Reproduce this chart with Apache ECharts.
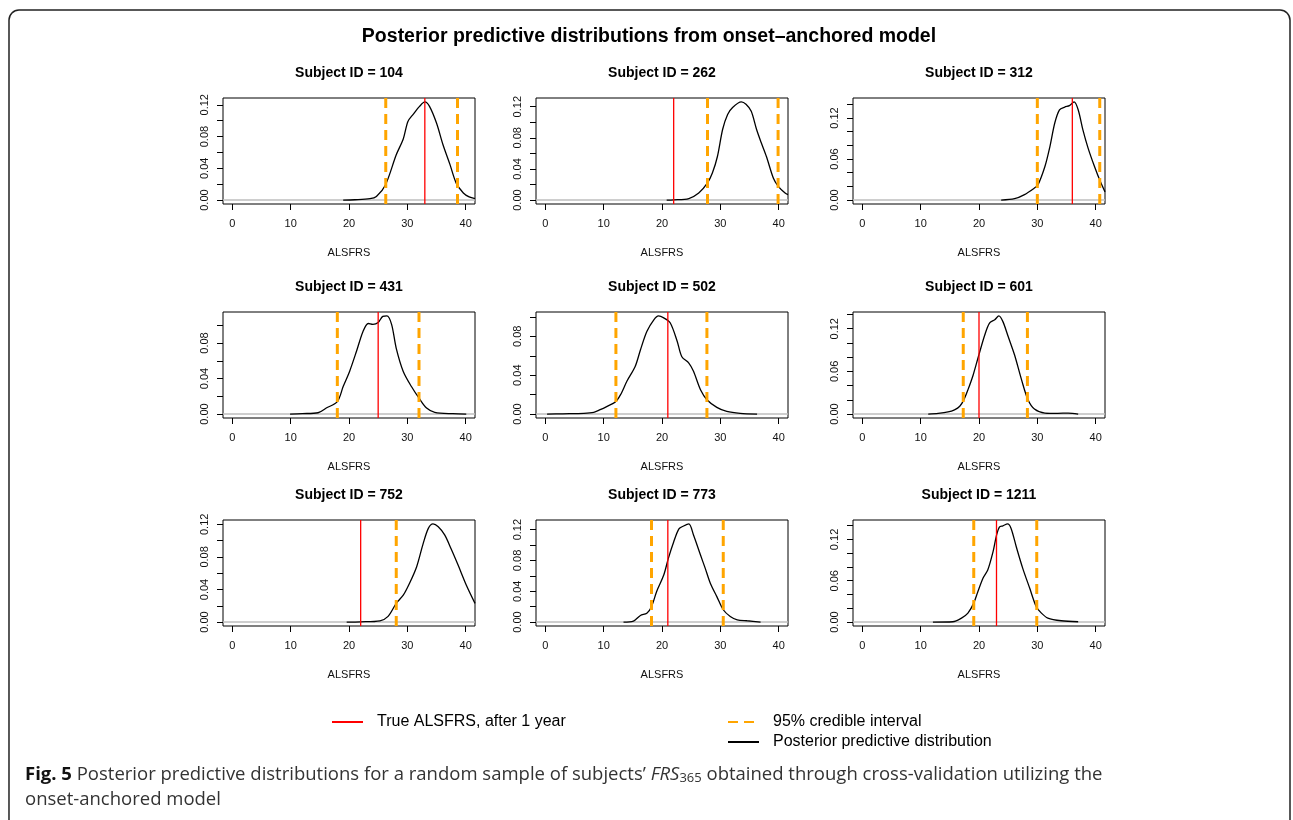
<!DOCTYPE html>
<html>
<head>
<meta charset="utf-8">
<title>Posterior predictive distributions</title>
<script src="https://cdn.jsdelivr.net/npm/echarts@6/dist/echarts.min.js"></script>
<style>
  html, body { margin: 0; padding: 0; background: #fff; }
  #chart { width: 1293px; height: 820px; }
</style>
</head>
<body>
<div id="chart"></div>
<script>
// subjects shown, one panel each (row by row)
const subjectIds = ["104", "262", "312", "431", "502", "601", "752", "773", "1211"];

// true ALSFRS after 1 year (red line)
const trueValues = [33, 22, 36, 25, 21, 20, 22, 21, 23];

// 95% credible interval bounds (orange dashed)
const ciLower = [26.3, 27.8, 30.0, 18.0, 12.1, 17.3, 28.1, 18.2, 19.1];
const ciUpper = [38.6, 39.9, 40.7, 32.0, 27.7, 28.3, 43.0, 30.5, 29.9];

// posterior predictive densities, [ALSFRS, density]
const dens104 = [[19.0, 0], [21, 0.0004], [23.6, 0.0017], [24.7, 0.0046], [26.25, 0.019], [28.1, 0.057], [29.3, 0.077], [30.1, 0.099], [31, 0.108], [32.1, 0.118], [33, 0.1236], [33.8, 0.118], [35, 0.097], [36.1, 0.070], [37.3, 0.045], [38.4, 0.021], [39.6, 0.009], [40.6, 0.004], [41.6, 0.0018]];
const dens262 = [[20.8, 0], [22, 0.0003], [24.6, 0.002], [26.3, 0.009], [27.8, 0.022], [28.65, 0.035], [29.5, 0.056], [30.4, 0.091], [31.25, 0.110], [32.1, 0.119], [33.6, 0.1261], [34.4, 0.123], [35.3, 0.114], [36.2, 0.091], [37, 0.074], [37.9, 0.056], [39.1, 0.028], [39.9, 0.018], [41.1, 0.009], [41.6, 0.007]];
const dens312 = [[23.8, 0], [26.1, 0.002], [27.8, 0.008], [29.5, 0.0176], [30.1, 0.022], [31.3, 0.049], [32.1, 0.076], [33, 0.113], [33.8, 0.132], [34.7, 0.136], [35.5, 0.138], [36.3, 0.1435], [37, 0.132], [37.8, 0.103], [38.7, 0.076], [39.8, 0.049], [40.8, 0.027], [41.6, 0.012]];
const dens431 = [[9.9, 0], [12, 0.0005], [14.7, 0.0015], [16.1, 0.0068], [18, 0.014], [19, 0.031], [20.1, 0.048], [21.3, 0.071], [22.4, 0.093], [23.3, 0.102], [24.1, 0.101], [25, 0.103], [25.8, 0.110], [26.5, 0.1105], [27.3, 0.101], [28.1, 0.074], [29.3, 0.048], [30.7, 0.031], [32.1, 0.017], [33.3, 0.0068], [34.7, 0.002], [37.8, 0.0004], [40.1, 0]];
const dens502 = [[0.3, 0], [3, 0.0003], [6.6, 0.0007], [8.3, 0.0017], [9.4, 0.0045], [10.6, 0.008], [12, 0.0124], [12.9, 0.020], [14, 0.034], [15.4, 0.049], [16.3, 0.066], [17.4, 0.085], [18.6, 0.097], [19.4, 0.101], [20.3, 0.099], [21.4, 0.094], [22.6, 0.075], [23.4, 0.059], [24.6, 0.0525], [25.4, 0.044], [26.6, 0.025], [27.7, 0.0148], [29.4, 0.0069], [31.1, 0.0027], [33.4, 0.0007], [36.3, 0]];
const dens601 = [[11.3, 0], [13, 0.001], [14.7, 0.003], [15.8, 0.006], [16.7, 0.011], [17.4, 0.020], [18.1, 0.034], [19, 0.055], [19.9, 0.081], [21, 0.1116], [21.8, 0.128], [22.7, 0.1327], [23.4, 0.138], [24.1, 0.130], [25, 0.109], [26.1, 0.083], [27.3, 0.048], [28.4, 0.020], [29.5, 0.007], [31.3, 0.0014], [33.5, 0.001], [35.3, 0.0014], [37, 0]];
const dens752 = [[19.6, 0], [22, 0.0003], [25.3, 0.0016], [26.7, 0.007], [28.1, 0.023], [29.3, 0.033], [30.4, 0.048], [31.6, 0.068], [32.7, 0.096], [33.6, 0.115], [34.4, 0.1205], [35.3, 0.117], [36.4, 0.107], [37.5, 0.090], [38.7, 0.070], [40.1, 0.0456], [41.6, 0.023]];
const dens773 = [[13.4, 0], [15.1, 0.0013], [16.3, 0.0086], [17.4, 0.0116], [18.2, 0.020], [19.1, 0.040], [20.3, 0.061], [21.1, 0.083], [22, 0.104], [22.9, 0.121], [23.7, 0.1247], [24.6, 0.1274], [25.4, 0.113], [26.6, 0.087], [27.4, 0.070], [28.3, 0.050], [29.4, 0.033], [30.5, 0.016], [31.7, 0.0073], [32.9, 0.003], [34.6, 0.0017], [36.9, 0]];
const dens1211 = [[12.1, 0], [15.5, 0.0005], [17, 0.0058], [18.1, 0.013], [19.1, 0.0275], [19.8, 0.044], [20.7, 0.064], [21.5, 0.0757], [22.4, 0.102], [23, 0.126], [23.5, 0.138], [24.1, 0.1398], [24.9, 0.1425], [25.5, 0.136], [26.4, 0.109], [27.5, 0.078], [28.7, 0.049], [29.8, 0.0227], [30.7, 0.013], [31.8, 0.0058], [34.1, 0.0019], [37, 0.0005]];
const densities = [dens104, dens262, dens312, dens431, dens502, dens601, dens752, dens773, dens1211];

// axis ticks and labels
const xTicks = [0, 10, 20, 30, 40];
const ticks12 = [0, 0.02, 0.04, 0.06, 0.08, 0.10, 0.12];
const ticks14 = [0, 0.02, 0.04, 0.06, 0.08, 0.10, 0.12, 0.14];
const ticks10 = [0, 0.02, 0.04, 0.06, 0.08, 0.10];
const labels4 = [0, 0.04, 0.08, 0.12];
const labels6 = [0, 0.06, 0.12];
const labels4s = [0, 0.04, 0.08];
const yTicks = [ticks12, ticks12, ticks14, ticks10, ticks10, ticks14, ticks12, ticks12, ticks14];
const yLabels = [labels4, labels4, labels6, labels4s, labels4s, labels6, labels4, labels4, labels6];

const NAME_TRUE = "True ALSFRS, after 1 year";
const NAME_CI = "95% credible interval";
const NAME_DENS = "Posterior predictive distribution";

// layout of the 3x3 panels (px)
const colLeft = [223, 536, 853];
const rowTop = [98, 312, 520];
const boxW = 252, boxH = 106;
const xMin = -1.6, xMax = 41.6;

const FONT = "'Liberation Sans', Arial, Helvetica, sans-serif";

const chart = echarts.init(document.getElementById("chart"));

const grids = [], xAxes = [], yAxes = [], series = [];
const graphics = [];

subjectIds.forEach((id, i) => {
  const left = colLeft[i % 3], top = rowTop[Math.floor(i / 3)];
  const peak = Math.max(...densities[i].map(p => p[1]));
  const yMin = -0.04 * peak, yMax = 1.04 * peak;

  grids.push({ left: left, top: top, width: boxW, height: boxH, show: true,
    borderColor: "#000", borderWidth: 1, backgroundColor: "transparent" });

  xAxes.push({
    gridIndex: i, type: "value", min: xMin, max: xMax, position: "bottom",
    name: "ALSFRS", nameLocation: "middle", nameGap: 43,
    nameTextStyle: { fontFamily: FONT, fontSize: 11, color: "#111" },
    axisLine: { show: false, onZero: false },
    axisTick: { show: true, length: 6, lineStyle: { color: "#000" }, customValues: xTicks },
    axisLabel: { fontFamily: FONT, fontSize: 11, color: "#111", margin: 14, customValues: xTicks },
    splitLine: { show: false }
  });

  yAxes.push({
    gridIndex: i, type: "value", min: yMin, max: yMax, position: "left",
    axisLine: { show: false, onZero: false },
    axisTick: { show: true, length: 6, lineStyle: { color: "#000" }, customValues: yTicks[i] },
    axisLabel: { fontFamily: FONT, fontSize: 11, color: "#111", rotate: 90, margin: 13,
      customValues: yLabels[i], formatter: v => v.toFixed(2) },
    splitLine: { show: false }
  });

  // zero line
  series.push({ type: "line", name: "zero", xAxisIndex: i, yAxisIndex: i, symbol: "none",
    silent: true, data: [[xMin, 0], [xMax, 0]], lineStyle: { color: "#bebebe", width: 1.5 } });
  // density
  series.push({ type: "line", name: NAME_DENS, xAxisIndex: i, yAxisIndex: i, symbol: "none",
    smooth: 0.3, clip: true, data: densities[i], lineStyle: { color: "#000", width: 1.3 },
    itemStyle: { color: "#000" } });
  // true value
  series.push({ type: "line", name: NAME_TRUE, xAxisIndex: i, yAxisIndex: i, symbol: "none",
    clip: true, data: [[trueValues[i], yMin], [trueValues[i], yMax]],
    lineStyle: { color: "#ff0000", width: 1.3 }, itemStyle: { color: "#ff0000" } });
  // credible interval bounds
  [ciLower[i], ciUpper[i]].forEach(v => {
    series.push({ type: "line", name: NAME_CI, xAxisIndex: i, yAxisIndex: i, symbol: "none",
      clip: true, data: [[v, yMin], [v, yMax]],
      lineStyle: { color: "#ffa500", width: 3, type: [10, 6] }, itemStyle: { color: "#ffa500" } });
  });

  graphics.push({ type: "text", x: left + boxW / 2, y: top - 25,
    style: { text: "Subject ID = " + id, font: "bold 14px " + FONT, fill: "#000",
      align: "center", verticalAlign: "middle" } });
});

// main title
graphics.push({ type: "text", x: 649, y: 37,
  style: { text: "Posterior predictive distributions from onset\u2013anchored model",
    font: "bold 19.5px " + FONT, fill: "#000", align: "center", verticalAlign: "middle" } });

// outer frame
graphics.push({ type: "rect", shape: { x: 9, y: 10, width: 1281, height: 840, r: 10 },
  style: { fill: "none", stroke: "#222", lineWidth: 1.5 }, silent: true });

// caption
const CAP_FONT = "'Open Sans', Lato, sans-serif";
graphics.push({ type: "text", x: 25, y: 775,
  style: { text: "{b|Fig. 5} Posterior predictive distributions for a random sample of subjects\u2019 {i|FRS}{s|365} obtained through cross-validation utilizing the",
    font: "18.5px " + CAP_FONT, fill: "#333", verticalAlign: "middle",
    rich: {
      b: { fontFamily: CAP_FONT, fontSize: 18.5, fontWeight: "bold", fill: "#111" },
      i: { fontFamily: CAP_FONT, fontSize: 18.5, fontStyle: "italic", fill: "#333" },
      s: { fontFamily: CAP_FONT, fontSize: 13, fill: "#333", padding: [7, 0, 0, 0] }
    } } });
graphics.push({ type: "text", x: 25, y: 800,
  style: { text: "onset-anchored model", font: "18.5px " + CAP_FONT, fill: "#333", verticalAlign: "middle" } });

const legendText = { fontFamily: FONT, fontSize: 16, color: "#000", padding: [0, 0, 0, 9] };
const legendMark = { opacity: 0 };

chart.setOption({
  backgroundColor: "#fff",
  animation: false,
  grid: grids,
  xAxis: xAxes,
  yAxis: yAxes,
  series: series,
  legend: [
    { data: [NAME_TRUE], left: 331, top: 714, padding: 0, itemWidth: 31, itemHeight: 14,
      itemStyle: legendMark, textStyle: legendText, selectedMode: false },
    { data: [NAME_CI, NAME_DENS], orient: "vertical", left: 727, top: 714, padding: 0,
      itemWidth: 31, itemHeight: 14, itemGap: 4, itemStyle: legendMark,
      textStyle: legendText, selectedMode: false }
  ],
  graphic: graphics
});
</script>
</body>
</html>
